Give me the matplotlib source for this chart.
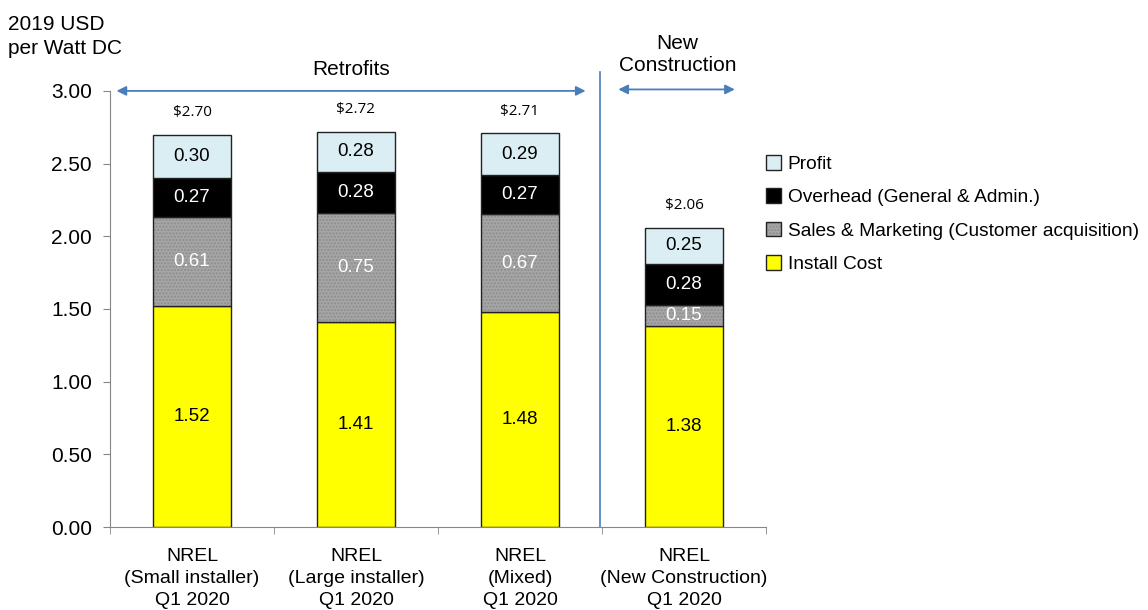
import matplotlib
matplotlib.use("Agg")
import matplotlib.pyplot as plt
import numpy as np

plt.rcParams['font.family'] = ['Liberation Sans', 'DejaVu Sans']

# cost components, 2019 USD per Watt DC
categories = ['NREL\n(Small installer)\nQ1 2020', 'NREL\n(Large installer)\nQ1 2020',
              'NREL\n(Mixed)\nQ1 2020', 'NREL\n(New Construction)\nQ1 2020']
install_cost = [1.52, 1.41, 1.48, 1.38]
sales_marketing = [0.61, 0.75, 0.67, 0.15]
overhead = [0.27, 0.28, 0.27, 0.28]
profit = [0.30, 0.28, 0.29, 0.25]
totals = [2.70, 2.72, 2.71, 2.06]

series = [
    ('Install Cost', install_cost, '#ffff00', 'black'),
    ('Sales & Marketing (Customer acquisition)', sales_marketing, '#a6a6a6', 'white'),
    ('Overhead (General & Admin.)', overhead, 'black', 'white'),
    ('Profit', profit, '#dbeef4', 'black'),
]

fig = plt.figure(figsize=(11.48, 6.10), dpi=100)
ax = fig.add_axes([0.0958, 0.136, 0.5714, 0.715])

x = np.arange(len(categories))
bottom = np.zeros(len(categories))
handles = []
for name, vals, fc, tc in series:
    vals = np.array(vals)
    b = ax.bar(x, vals, 0.475, bottom=bottom, color=fc, edgecolor='#222222',
               linewidth=1.0, label=name)
    if name.startswith('Sales'):
        # grainy fill on the sales segment
        for r in b:
            r.set_hatch('.....')
            r._hatch_color = (0.55, 0.55, 0.55, 1.0)
    handles.append(b)
    for xi, v, b0 in zip(x, vals, bottom):
        ax.text(xi, b0 + v / 2, f'{v:.2f}', ha='center', va='center',
                color=tc, fontsize=13.5)
    bottom += vals

for xi, t in zip(x, totals):
    ax.text(xi, t + 0.1, f'${t:.2f}', ha='center', va='bottom',
            fontsize=11, family=['Open Sans', 'DejaVu Sans'])

ax.set_xlim(-0.5, 3.5)
ax.set_ylim(0, 3.0)
ax.set_yticks(np.arange(0, 3.01, 0.5))
ax.set_yticklabels([f'{v:.2f}' for v in np.arange(0, 3.01, 0.5)], fontsize=15)
ax.set_xticks(x)
ax.set_xticklabels(categories, fontsize=14, linespacing=1.4)
ax.tick_params(axis='x', which='major', length=0, pad=15)
ax.set_xticks(np.arange(-0.5, 3.6, 1), minor=True)
ax.tick_params(axis='x', which='minor', length=5, color='#868686')
ax.tick_params(axis='y', length=5, color='#868686', pad=8)
for s in ['top', 'right']:
    ax.spines[s].set_visible(False)
for s in ['left', 'bottom']:
    ax.spines[s].set_color('#868686')
ax.set_xlim(-0.5, 3.5)

# group markers above the plot
blue = '#4a7ebb'
arrow = dict(arrowstyle='<|-|>', color=blue, lw=1.3, mutation_scale=14,
             shrinkA=0, shrinkB=0)
ax.annotate('', xy=(-0.46, 3.0), xytext=(2.4, 3.0), xycoords='data',
            arrowprops=arrow, annotation_clip=False)
ax.annotate('', xy=(2.6, 3.01), xytext=(3.31, 3.01), xycoords='data',
            arrowprops=arrow, annotation_clip=False)
ax.plot([2.49, 2.49], [0, 3.13], color=blue, lw=1.2, clip_on=False)
ax.text(0.97, 3.15, 'Retrofits', ha='center', va='center', fontsize=15)
ax.text(2.96, 3.25, 'New\nConstruction', ha='center', va='center', fontsize=15,
        linespacing=1.2)

fig.text(0.007, 0.94, '2019 USD\nper Watt DC', ha='left', va='center', fontsize=15,
         linespacing=1.35)

fig.legend(handles=handles[::-1], labels=[s[0] for s in series][::-1],
           loc='upper left', bbox_to_anchor=(0.652, 0.774), frameon=False,
           fontsize=13.8, handlelength=0.8, handleheight=0.8, handletextpad=0.35,
           labelspacing=0.8)

fig.savefig('out.png', dpi=100)
